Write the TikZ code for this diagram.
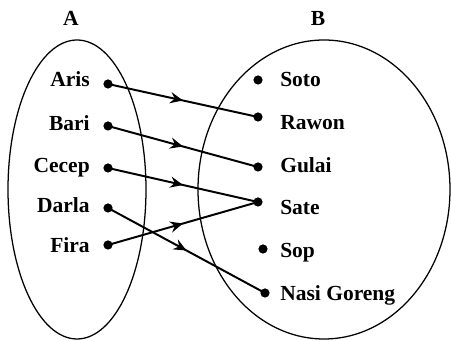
\documentclass[tikz,border=0pt]{standalone}
\usepackage{fontspec}
\setmainfont{Liberation Serif}
\usetikzlibrary{arrows.meta, decorations.markings, shapes.geometric}

\begin{document}
\begin{tikzpicture}[
    dot/.style={circle, fill=black, inner sep=0pt, minimum size=2.3mm},
    elem/.style={font=\fontsize{15.3}{18}\selectfont\bfseries, inner sep=0pt},
    maps/.style={line width=1.4pt, postaction={decorate},
        decoration={markings, mark=at position 0.5 with {\arrow{Stealth[length=3.2mm, width=2.8mm, inset=1.1mm]}}}}
]
    \useasboundingbox (0,0) rectangle (11.275,8.525);

    % The two sets
    \node[draw, ellipse, line width=0.9pt, minimum width=3.45cm, minimum height=7.475cm] (setA) at (1.925,3.7875) {};
    \node[draw, ellipse, line width=0.9pt, minimum width=6.3cm, minimum height=7.475cm] (setB) at (8.1,3.7875) {};
    \node[elem] (titleA) at (1.775,8.075) {A};
    \node[elem] (titleB) at (7.95,8.075) {B};

    % Elements of A
    \foreach \n/\y/\t/\ly in {aris/6.425/Aris/6.45, bari/5.375/Bari/5.35, cecep/4.325/Cecep/4.3,
                               darla/3.325/Darla/3.3, fira/2.4/Fira/2.3} {
        \node[dot] (\n) at (2.7,\y) {};
        \node[elem, anchor=mid east] (\n-lbl) at (2.25,\ly) {\t};
    }

    % Elements of B
    \foreach \n/\x/\y/\t/\ly in {soto/6.45/6.525/Soto/6.45, rawon/6.45/5.6/Rawon/5.375,
                                  gulai/6.45/4.35/Gulai/4.3, sate/6.45/3.475/Sate/3.25,
                                  sop/6.575/2.3/Sop/2.175, nasi/6.625/1.2/Nasi Goreng/1.1} {
        \node[dot] (\n) at (\x,\y) {};
        \node[elem, anchor=mid west] (\n-lbl) at (7.0,\ly) {\t};
    }

    % Mapping A -> B
    \foreach \a/\b in {aris/rawon, bari/gulai, cecep/sate, darla/nasi, fira/sate}
        \draw[maps] (\a.center) -- (\b.center);
\end{tikzpicture}
\end{document}
